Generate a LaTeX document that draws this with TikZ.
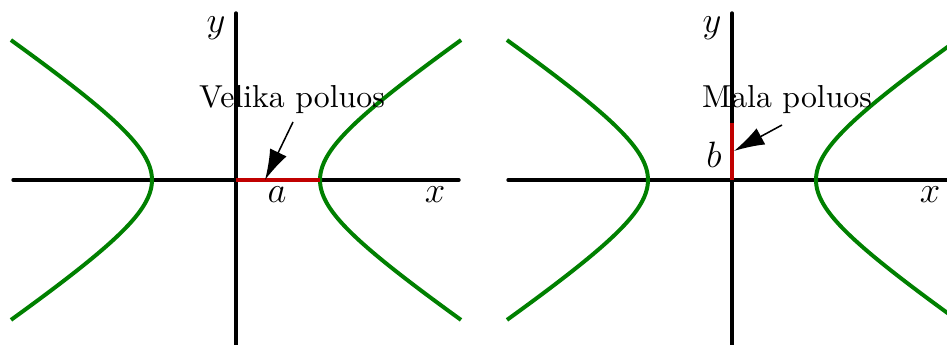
\documentclass[tikz,border=0pt]{standalone}
\usetikzlibrary{arrows.meta}
\definecolor{hypgreen}{RGB}{0,128,0}
\definecolor{axred}{RGB}{192,0,0}
\begin{document}
\begin{tikzpicture}[x=0.0115cm,y=-0.0115cm,
  axis/.style={line width=1.1pt,black,line cap=round},
  hyp/.style={line width=1.3pt,hypgreen},
  semi/.style={line width=1.3pt,axred},
  callout/.style={-{Latex[length=10pt,width=6pt]},line width=0.5pt},
  lbl/.style={inner sep=0pt,font=\large},
  txt/.style={inner sep=0pt,font=\fontsize{10.4}{12}\selectfont}]
\useasboundingbox (0,0) rectangle (947,345);
\clip (0,0) rectangle (947,345);
% ---------- left panel ----------
\coordinate (O1) at (236,180);
\draw[axis] (13,180) coordinate (xl1) -- (459,180) coordinate (xr1);
\draw[axis] (236,13) coordinate (yt1) -- (236,350) coordinate (yb1);
\draw[hyp] plot[domain=-1.642:1.642,samples=80,smooth] ({236+84*cosh(\x)},{180+56.3*sinh(\x)});
\draw[hyp] plot[domain=-1.642:1.642,samples=80,smooth] ({236-84*cosh(\x)},{180+56.3*sinh(\x)});
\coordinate (A1) at (320,180);
\draw[semi] (O1) -- (A1);
\node[lbl] (y1) at (216,28) {$y$};
\node[lbl] (x1) at (435,195) {$x$};
\node[lbl] (a1) at (277,195) {$a$};
\node[txt] (vel) at (292,100) {Velika poluos};
\coordinate (ta) at (265,180);
\draw[callout] (293,122) coordinate (sa) -- (ta);
% ---------- right panel ----------
\coordinate (O2) at (732,180);
\draw[axis] (508,180) coordinate (xl2) -- (960,180) coordinate (xr2);
\draw[axis] (732,13) coordinate (yt2) -- (732,350) coordinate (yb2);
\draw[hyp] plot[domain=-1.642:1.642,samples=80,smooth] ({732+84*cosh(\x)},{180+56.3*sinh(\x)});
\draw[hyp] plot[domain=-1.642:1.642,samples=80,smooth] ({732-84*cosh(\x)},{180+56.3*sinh(\x)});
\coordinate (B2) at (732,123);
\draw[semi] (O2) -- (B2);
\node[lbl] (y2) at (712,28) {$y$};
\node[lbl] (x2) at (930,195) {$x$};
\node[lbl] (b2) at (714,155) {$b$};
\node[txt] (mal) at (787,100) {Mala poluos};
\coordinate (tb) at (734,151);
\draw[callout] (782,125) coordinate (sb) -- (tb);
\end{tikzpicture}
\end{document}
